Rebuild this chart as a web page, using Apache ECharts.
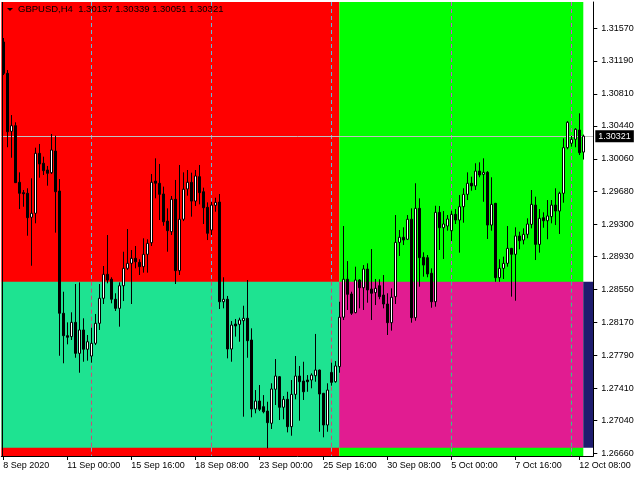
<!DOCTYPE html>
<html><head><meta charset="utf-8">
<script src="https://cdn.jsdelivr.net/npm/echarts@6/dist/echarts.min.js"></script>
<style>html,body{margin:0;padding:0;background:#fff}#c{width:640px;height:480px}</style>
</head><body><div id="c"></div>
<script>
const titleText = 'GBPUSD,H4  1.30137 1.30339 1.30051 1.30321';
const timeLabels = ['8 Sep 2020','11 Sep 00:00','15 Sep 16:00','18 Sep 08:00','23 Sep 00:00','25 Sep 16:00','30 Sep 08:00','5 Oct 00:00','7 Oct 16:00','12 Oct 08:00'];
const priceLabels = ['1.26660','1.27040','1.27410','1.27790','1.28170','1.28550','1.28930','1.29300','1.29680','1.30060','1.30440','1.30810','1.31190','1.31570'];

const open = [1.31409,1.31047,1.30377,1.30442,1.29788,1.29668,1.29661,1.29384,1.29430,1.30123,1.30008,1.29930,1.29899,1.30149,1.29687,1.28275,1.28016,1.28005,1.28170,1.27812,1.28082,1.27859,1.27781,1.27928,1.28159,1.28448,1.28725,1.28668,1.28437,1.28332,1.28593,1.28794,1.28852,1.28910,1.28863,1.28813,1.28956,1.29090,1.29803,1.29777,1.29653,1.29340,1.29217,1.29592,1.28767,1.29361,1.29711,1.29788,1.29571,1.29853,1.29679,1.29499,1.29237,1.29522,1.29560,1.28408,1.28437,1.27862,1.28151,1.28147,1.28189,1.28217,1.27966,1.27169,1.27261,1.27196,1.27145,1.27004,1.27397,1.27542,1.27189,1.27281,1.26965,1.27338,1.27550,1.27492,1.27504,1.27504,1.27553,1.27619,1.27350,1.26984,1.27592,1.27484,1.27658,1.28229,1.28668,1.28498,1.28282,1.28659,1.28570,1.28786,1.28555,1.28513,1.28593,1.28486,1.28382,1.28166,1.28467,1.29094,1.29153,1.29130,1.29361,1.28224,1.29487,1.28922,1.28917,1.28737,1.28408,1.29441,1.29263,1.29283,1.29229,1.29418,1.29352,1.29506,1.29649,1.29777,1.29746,1.29918,1.29880,1.29903,1.29294,1.29545,1.28686,1.28794,1.28852,1.29025,1.28956,1.29168,1.29121,1.29187,1.29302,1.29525,1.29071,1.29379,1.29344,1.29391,1.29525,1.29456,1.29661,1.30188,1.30239,1.30285,1.30392,1.30137];
const close = [1.31047,1.30372,1.30442,1.29784,1.29661,1.29656,1.29379,1.29430,1.30123,1.30000,1.29922,1.29892,1.30161,1.29679,1.28275,1.28016,1.27998,1.28170,1.27812,1.28082,1.27859,1.27946,1.27928,1.28159,1.28448,1.28725,1.28659,1.28437,1.28332,1.28593,1.28794,1.28852,1.28910,1.28870,1.28813,1.28956,1.29083,1.29788,1.29777,1.29649,1.29332,1.29229,1.29592,1.28767,1.29361,1.29708,1.29788,1.29571,1.29861,1.29668,1.29494,1.29199,1.29525,1.29556,1.28408,1.28437,1.27862,1.28139,1.28128,1.28197,1.28217,1.27958,1.27169,1.27261,1.27166,1.27137,1.27011,1.27400,1.27550,1.27189,1.27281,1.26965,1.27338,1.27550,1.27484,1.27368,1.27484,1.27561,1.27619,1.27342,1.26984,1.27388,1.27477,1.27666,1.28229,1.28668,1.28494,1.28275,1.28659,1.28570,1.28786,1.28544,1.28506,1.28563,1.28467,1.28382,1.28166,1.28460,1.29094,1.29153,1.29121,1.29361,1.28224,1.29487,1.28917,1.28832,1.28729,1.28408,1.29441,1.29263,1.29306,1.29364,1.29418,1.29352,1.29506,1.29649,1.29777,1.29746,1.29918,1.29872,1.29903,1.29294,1.29533,1.28686,1.28794,1.28852,1.29025,1.28956,1.29168,1.29113,1.29187,1.29306,1.29533,1.29071,1.29372,1.29344,1.29399,1.29525,1.29456,1.29661,1.30188,1.30481,1.30285,1.30401,1.30130,1.30321];
const low = [1.31027,1.30193,1.30072,1.29780,1.29479,1.29506,1.29171,1.28824,1.29314,1.29841,1.29872,1.29749,1.29884,1.29206,1.27784,1.27697,1.27916,1.27966,1.27761,1.27588,1.27715,1.27727,1.27704,1.27908,1.28082,1.28382,1.28621,1.28390,1.28301,1.28120,1.28416,1.28775,1.28382,1.28794,1.28717,1.28744,1.28744,1.29052,1.29603,1.29352,1.29286,1.28986,1.29179,1.28613,1.28717,1.29340,1.29633,1.29391,1.29514,1.29533,1.29306,1.29121,1.29179,1.29448,1.28324,1.28332,1.27754,1.27715,1.28005,1.27946,1.27080,1.27761,1.27073,1.27119,1.27145,1.27119,1.26715,1.26938,1.27215,1.27042,1.27050,1.26899,1.26860,1.27281,1.27034,1.27273,1.27368,1.27408,1.27484,1.26906,1.26842,1.26906,1.27438,1.27473,1.27588,1.28197,1.28313,1.28255,1.28275,1.28332,1.28313,1.28397,1.28197,1.28370,1.28437,1.28332,1.28024,1.28074,1.28382,1.28937,1.29063,1.29121,1.28166,1.28189,1.28582,1.28698,1.28691,1.28339,1.28351,1.29006,1.28902,1.29229,1.29109,1.29306,1.28975,1.29321,1.29583,1.29691,1.29699,1.29846,1.29563,1.29133,1.29229,1.28639,1.28639,1.28671,1.28813,1.28467,1.28420,1.29014,1.29071,1.29141,1.29256,1.28890,1.28975,1.29263,1.29130,1.29314,1.29294,1.29191,1.29552,1.30170,1.30200,1.30193,1.30103,1.30051];
const high = [1.31455,1.31085,1.30565,1.30481,1.29903,1.29699,1.29719,1.29834,1.30188,1.30231,1.30084,1.29977,1.30346,1.30326,1.29826,1.28524,1.28170,1.28286,1.28613,1.28632,1.28217,1.28024,1.28108,1.28267,1.28613,1.28821,1.29179,1.28691,1.28506,1.28632,1.28986,1.29248,1.29006,1.29052,1.28899,1.29141,1.29130,1.29884,1.30065,1.30000,1.29738,1.29487,1.29630,1.29815,1.29988,1.29903,1.29930,1.29899,1.29930,1.29988,1.29726,1.29556,1.29563,1.29610,1.29653,1.28691,1.28475,1.28185,1.28209,1.28224,1.28362,1.28659,1.28101,1.27388,1.27446,1.27330,1.27253,1.27466,1.27746,1.27550,1.27319,1.27368,1.27504,1.27781,1.27666,1.27715,1.27561,1.27581,1.28036,1.27625,1.27355,1.27466,1.27704,1.27723,1.28408,1.29283,1.28878,1.28524,1.28813,1.28668,1.28832,1.28852,1.29017,1.28671,1.28668,1.28717,1.28506,1.28563,1.29410,1.29237,1.29268,1.29410,1.29487,1.29777,1.29603,1.28979,1.28948,1.28794,1.29517,1.29514,1.29456,1.29410,1.29460,1.29479,1.29641,1.29719,1.29903,1.29853,1.30008,1.30019,1.30065,1.29918,1.29846,1.29550,1.28899,1.28929,1.29283,1.29030,1.29268,1.29217,1.29256,1.29372,1.29699,1.29622,1.29479,1.29441,1.29583,1.29583,1.29719,1.29679,1.30296,1.30496,1.30323,1.30413,1.30585,1.30339];

const bid = 1.30321;
const zoneTop = 1.28640;     // boundary between upper and lower boxes
const zoneBottom = 1.26722;  // bottom of lower boxes
const zoneBreakBar = 84;     // bar where the boxes change colour
const lastBar = 145;
const separatorBars = [22, 52, 82, 112, 142];
const slotCount = 148;
const yMin = 1.26626, yMax = 1.31871;

const categories = [];
for (let i = 0; i < slotCount; i++) categories.push(String(i));
const candles = open.map((o, i) => [o, close[i], low[i], high[i]]);
const priceTicks = priceLabels.map(Number);

const FONT = 'Liberation Sans';
const sepColors = { red: '#5ab8dc', teal: '#cc4a78', green: '#d048d0', magenta: '#34c884' };

const markLines = [];
separatorBars.forEach(b => {
  const upper = b < zoneBreakBar ? sepColors.red : sepColors.green;
  const lower = b < zoneBreakBar ? sepColors.teal : sepColors.magenta;
  const seg = (y0, y1, c) => markLines.push([
    { coord: [b, y0], lineStyle: { color: c, type: [4, 3], width: 1 } },
    { coord: [b, y1] }
  ]);
  seg(yMax, zoneTop, upper);
  seg(zoneTop, zoneBottom, lower);
  seg(zoneBottom, yMin, upper);
});
markLines.push({
  yAxis: bid,
  lineStyle: { color: '#c0c0c0', type: 'solid', width: 1 },
  label: {
    show: true, position: 'end', distance: 2, formatter: '1.30321',
    color: '#fff', backgroundColor: '#000', padding: [2, 3, 1, 3],
    fontFamily: FONT, fontSize: 9
  }
});

const chart = echarts.init(document.getElementById('c'), null, { renderer: 'canvas' });
chart.setOption({
  animation: false,
  backgroundColor: '#fff',
  grid: { left: 1.3, right: 46.7, top: 2, bottom: 24, show: false },
  xAxis: {
    type: 'category', data: categories, boundaryGap: true, z: 10,
    axisLine: { lineStyle: { color: '#000', width: 1 } },
    axisTick: { show: true, alignWithLabel: true, length: 4, interval: i => i % 16 === 0, lineStyle: { color: '#000' } },
    axisLabel: {
      interval: i => i % 16 === 0, align: 'left', margin: 5,
      formatter: (v, i) => timeLabels[i / 16] || '',
      color: '#000', fontFamily: FONT, fontSize: 9
    },
    splitLine: { show: false }
  },
  yAxis: {
    type: 'value', position: 'right', min: yMin, max: yMax, z: 10,
    axisLine: { show: true, lineStyle: { color: '#000', width: 1 } },
    axisTick: { show: true, length: 4, customValues: priceTicks, lineStyle: { color: '#000' } },
    axisLabel: {
      margin: 8, color: '#000', fontFamily: FONT, fontSize: 9,
      customValues: priceTicks,
      formatter: v => {
        const k = priceTicks.findIndex(t => Math.abs(t - v) < 1e-6);
        return k >= 0 ? priceLabels[k] : '';
      }
    },
    splitLine: { show: false }
  },
  graphic: [
    { type: 'line', z: 100, shape: { x1: 2.5, y1: 2, x2: 2.5, y2: 456 }, style: { stroke: '#000', lineWidth: 1 } },
    { type: 'polygon', z: 100, shape: { points: [[7, 8], [13, 8], [10, 11]] }, style: { fill: '#000' } },
    { type: 'text', z: 100, x: 18, y: 4, style: { text: titleText, fill: '#000', font: '9.5px "Liberation Sans"' } }
  ],
  series: [{
    type: 'candlestick',
    data: candles,
    z: 3,
    barWidth: 3,
    itemStyle: { color: '#fff', color0: '#000', borderColor: '#000', borderColor0: '#000', borderWidth: 1 },
    markArea: {
      silent: true, z: 1,
      itemStyle: { opacity: 1, borderWidth: 0 },
      data: [
        [{ yAxis: yMin, itemStyle: { color: '#ff0000' } }, { xAxis: zoneBreakBar, yAxis: yMax }],
        [{ xAxis: zoneBreakBar, yAxis: yMin, itemStyle: { color: '#00ff00' } }, { xAxis: lastBar, yAxis: yMax }],
        [{ yAxis: zoneBottom, itemStyle: { color: '#1ee391' } }, { xAxis: zoneBreakBar, yAxis: zoneTop }],
        [{ xAxis: zoneBreakBar, yAxis: zoneBottom, itemStyle: { color: '#e11c91' } }, { xAxis: lastBar, yAxis: zoneTop }],
        [{ xAxis: lastBar, yAxis: zoneBottom, itemStyle: { color: '#1e1c6e' } }, { yAxis: zoneTop }]
      ]
    },
    markLine: {
      silent: true, z: 2, symbol: ['none', 'none'], precision: 5,
      label: { show: false },
      data: markLines
    }
  }]
});
</script></body></html>
